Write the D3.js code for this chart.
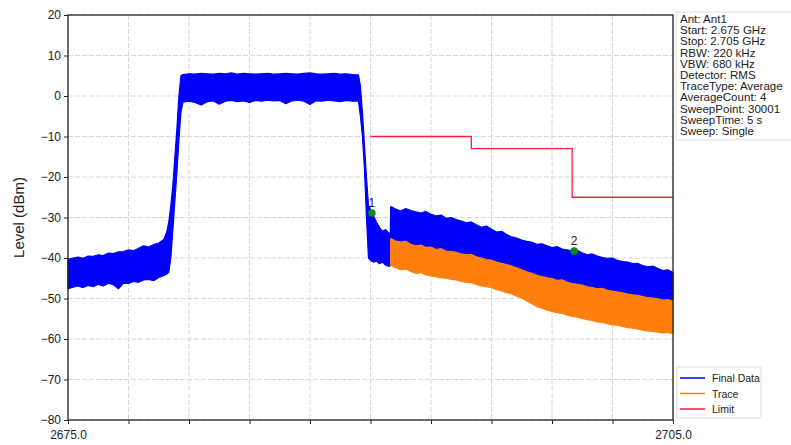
<!DOCTYPE html>
<html><head><meta charset="utf-8">
<script src="https://cdn.jsdelivr.net/npm/d3@7"></script>
<style>
body{margin:0;background:#fff;}
text{font-family:"Liberation Sans",Arial,sans-serif;}
</style></head>
<body><svg id="c" width="791" height="445"></svg>
<script>
// ---- data ----
const bandFreq = [2675.00,2675.25,2675.50,2675.75,2676.00,2676.25,2676.50,2676.75,2677.00,2677.25,2677.50,2677.75,2678.00,2678.25,2678.50,2678.75,2679.00,2679.25,2679.50,
 2679.75,2679.90,2680.00,2680.10,2680.20,2680.30,2680.40,2680.50,2680.60,2680.70,
 2681.00,2681.30,2681.60,2681.90,2682.20,2682.50,2682.80,2683.10,2683.40,2683.70,2684.00,2684.30,2684.60,2684.90,2685.20,2685.50,2685.80,2686.10,2686.40,2686.70,2687.00,2687.30,2687.60,2687.90,2688.20,2688.50,2688.80,2689.10,
 2689.40,2689.50,2689.60,2689.70,2689.80,2689.90,2690.00,2690.15,2690.30,2690.45,2690.60,2690.75,2690.90,2690.98];
const bandMax = [-40.3,-40.0,-39.8,-40.1,-39.5,-39.6,-39.2,-39.4,-38.8,-38.9,-38.5,-38.4,-38.0,-38.2,-37.6,-37.0,-37.3,-36.7,-36.3,
 -35.4,-33.5,-31.0,-27.0,-22.0,-15.0,-8.0,0.0,5.0,5.3,
 5.5,5.4,5.6,5.5,5.4,5.6,5.5,5.7,5.4,5.6,5.5,5.4,5.5,5.6,5.4,5.5,5.6,5.5,5.4,5.6,5.7,5.5,5.4,5.5,5.6,5.4,5.5,5.3,
 5.2,2.5,-4.0,-12.0,-20.0,-27.0,-28.0,-29.6,-31.2,-32.5,-33.4,-33.0,-33.8,-34.0];
const bandMin = [-47.6,-47.2,-46.9,-47.3,-46.8,-47.1,-46.5,-46.9,-46.2,-46.6,-47.6,-46.2,-46.3,-45.8,-46.0,-45.4,-45.3,-45.6,-44.8,
 -44.3,-44.0,-43.5,-40.0,-33.0,-26.0,-19.0,-11.0,-4.0,-1.5,
 -1.3,-1.6,-2.2,-1.4,-1.2,-2.0,-1.3,-1.1,-1.4,-1.2,-1.6,-1.1,-1.3,-1.0,-1.2,-1.1,-1.9,-1.2,-1.0,-1.3,-2.1,-1.2,-1.3,-1.0,-1.2,-1.4,-1.1,-1.3,
 -1.2,-5.0,-10.0,-18.0,-30.0,-40.0,-40.6,-41.0,-40.8,-41.4,-41.0,-41.8,-42.0,-42.0];

const spurFreq = [2691.00,2691.25,2691.50,2691.75,2692.00,2692.25,2692.50,2692.75,2693.00,2693.25,2693.50,2693.75,2694.00,2694.25,2694.50,2694.75,2695.00,2695.25,2695.50,2695.75,
 2696.00,2696.25,2696.50,2696.75,2697.00,2697.25,2697.50,2697.75,2698.00,2698.25,2698.50,2698.75,2699.00,2699.25,2699.50,2699.75,2700.00,2700.25,2700.50,2700.75,
 2701.00,2701.25,2701.50,2701.75,2702.00,2702.25,2702.50,2702.75,2703.00,2703.25,2703.50,2703.75,2704.00,2704.25,2704.50,2704.75,2705.00];
const finalSpurMax = [-27.3,-27.9,-28.4,-27.8,-28.3,-28.6,-28.9,-28.5,-29.2,-29.6,-29.4,-30.2,-30.0,-30.5,-30.9,-31.3,-31.1,-31.8,-32.4,-32.1,
 -32.9,-33.6,-33.4,-34.2,-34.8,-35.1,-35.6,-35.9,-36.1,-36.6,-36.5,-37.0,-37.4,-37.2,-37.8,-38.0,-38.3,-38.1,-38.7,-39.2,
 -39.0,-39.5,-39.9,-40.1,-40.0,-40.6,-40.9,-41.0,-41.4,-41.3,-41.9,-42.2,-42.0,-42.6,-43.1,-42.9,-43.6];
const traceMax = [-35.2,-35.8,-36.1,-35.9,-36.6,-37.0,-36.8,-37.4,-37.3,-37.9,-37.7,-38.3,-38.4,-38.6,-39.0,-39.2,-39.1,-39.7,-40.0,-40.4,
 -40.5,-41.0,-41.3,-41.6,-42.0,-42.4,-42.9,-43.4,-43.8,-44.3,-44.6,-44.9,-45.1,-45.5,-45.4,-46.0,-46.3,-46.5,-46.7,-47.1,
 -47.3,-47.6,-47.5,-48.0,-48.2,-48.4,-48.6,-48.9,-49.1,-49.2,-49.5,-49.8,-49.9,-50.1,-50.4,-50.3,-50.6];
const traceMin = [-41.8,-42.4,-42.9,-42.7,-43.3,-43.8,-43.6,-44.2,-44.4,-44.6,-44.9,-45.0,-45.3,-45.4,-45.8,-46.0,-46.1,-46.5,-46.9,-47.1,
 -47.3,-47.8,-48.1,-48.5,-48.9,-49.4,-49.9,-50.6,-51.3,-52.0,-52.4,-52.8,-53.2,-53.5,-53.7,-54.1,-54.4,-54.6,-54.9,-55.2,
 -55.4,-55.8,-55.9,-56.2,-56.5,-56.6,-56.9,-57.2,-57.3,-57.5,-57.8,-58.0,-58.1,-58.3,-58.5,-58.4,-58.7];

const limitFreq = [2690, 2695, 2700, 2705];
const limitLevel = [-10, -13, -25, -25];

const markerFreq = [2690.07, 2700.1];
const markerLevel = [-28.9, -38.3];
const markerLabel = ["1", "2"];

const xTicks = [2675, 2678, 2681, 2684, 2687, 2690, 2693, 2696, 2699, 2702, 2705];
const yTicks = [20, 10, 0, -10, -20, -30, -40, -50, -60, -70, -80];

const infoLines = ["Ant: Ant1","Start: 2.675 GHz","Stop: 2.705 GHz","RBW: 220 kHz","VBW: 680 kHz","Detector: RMS","TraceType: Average","AverageCount: 4","SweepPoint: 30001","SweepTime: 5 s","Sweep: Single"];
const legendNames = ["Final Data","Trace","Limit"];
const legendColors = ["#0000ff","#ff7f0e","#ff1f3d"];

// ---- chart ----
const svg = d3.select("#c");
const m = {l:68, t:15, r:118, b:25};
const W = 791 - m.l - m.r, H = 445 - m.t - m.b;
const x = d3.scaleLinear().domain([2675, 2705]).range([0, W]);
const y = d3.scaleLinear().domain([-80, 20]).range([H, 0]);
const g = svg.append("g").attr("transform", `translate(${m.l},${m.t})`);

// grid
g.append("g").selectAll("line").data(yTicks).join("line")
  .attr("x1",0).attr("x2",W).attr("y1",d=>y(d)).attr("y2",d=>y(d))
  .attr("stroke","#d8d8d8").attr("stroke-width",1).attr("stroke-dasharray","5,2");
g.append("g").selectAll("line").data(xTicks).join("line")
  .attr("y1",0).attr("y2",H).attr("x1",d=>x(d)).attr("x2",d=>x(d))
  .attr("stroke","#d8d8d8").attr("stroke-width",1).attr("stroke-dasharray","5,2");

// Final Data envelope
const fFreq = bandFreq.concat(spurFreq);
const fMax = bandMax.concat(finalSpurMax);
const fMin = bandMin.concat(traceMax);
const finalPts = fFreq.map((f,i)=>({f, hi:fMax[i], lo:fMin[i]}));
const area = d3.area().x(d=>x(d.f)).y0(d=>y(d.lo)).y1(d=>y(d.hi));
g.append("path").datum(finalPts).attr("d", area)
  .attr("fill", legendColors[0]).attr("stroke", legendColors[0]).attr("stroke-width",1.2).attr("stroke-linejoin","bevel");

// Trace envelope
const tracePts = spurFreq.map((f,i)=>({f, hi:traceMax[i], lo:traceMin[i]}));
g.append("path").datum(tracePts).attr("d", area)
  .attr("fill", legendColors[1]).attr("stroke", legendColors[1]).attr("stroke-width",1.2).attr("stroke-linejoin","bevel");

// Limit
const limPts = limitFreq.map((f,i)=>({f, v:limitLevel[i]}));
g.append("path").datum(limPts)
  .attr("d", d3.line().x(d=>x(d.f)).y(d=>y(d.v)).curve(d3.curveStepAfter))
  .attr("fill","none").attr("stroke", legendColors[2]).attr("stroke-width",1.3);

// markers
const mk = markerFreq.map((f,i)=>({f, v:markerLevel[i], t:markerLabel[i]}));
g.selectAll("circle.mk").data(mk).join("circle").attr("class","mk")
  .attr("cx",d=>x(d.f)).attr("cy",d=>y(d.v)).attr("r",3.8).attr("fill","#0c8c1c");
g.selectAll("text.mk").data(mk).join("text").attr("class","mk")
  .attr("x",d=>x(d.f)).attr("y",d=>y(d.v)-6).attr("text-anchor","middle")
  .attr("font-size",12).attr("fill","#222").text(d=>d.t);

// axes
const yAxis = d3.axisLeft(y).tickValues(yTicks).tickSize(4).tickPadding(3);
const yg = g.append("g").call(yAxis);
yg.selectAll("text").attr("font-size",12).attr("fill","#222");
const xAxis = d3.axisBottom(x).tickValues(xTicks).tickSize(4).tickPadding(6)
  .tickFormat((d,i)=> (i===0 || i===xTicks.length-1) ? d3.format(".1f")(d) : "");
const xg = g.append("g").attr("transform",`translate(0,${H})`).call(xAxis);
xg.selectAll("text").attr("font-size",12).attr("fill","#222");
[yg,xg].forEach(a=>{a.select(".domain").remove(); a.selectAll("line").attr("stroke","#222");});

// frame
g.append("rect").attr("x",0).attr("y",0).attr("width",W).attr("height",H)
  .attr("fill","none").attr("stroke","#222").attr("stroke-width",1.3);

// y label
svg.append("text").attr("transform",`translate(24,${m.t+H/2}) rotate(-90)`)
  .attr("text-anchor","middle").attr("font-size",15).attr("fill","#222").text("Level (dBm)");

// info box
const ib = svg.append("g").attr("transform","translate(676,12)");
ib.append("rect").attr("x",0).attr("y",0).attr("width",116).attr("height",128)
  .attr("fill","#fff").attr("stroke","#ddd");
ib.append("g").attr("transform","translate(4,0) scale(1.07,1)")
  .selectAll("text").data(infoLines).join("text")
  .attr("x",0).attr("y",(d,i)=>11+i*11.2).attr("font-size",10.8).attr("fill","#222").text(d=>d);

// legend
const lg = svg.append("g").attr("transform","translate(677,367)");
lg.append("rect").attr("width",84).attr("height",51).attr("fill","#fff").attr("stroke","#e0e0e0");
const li = lg.selectAll("g").data(legendNames).join("g")
  .attr("transform",(d,i)=>`translate(0,${11+i*15.5})`);
li.append("line").attr("x1",3).attr("x2",28).attr("stroke",(d,i)=>legendColors[i]).attr("stroke-width",1.5);
li.append("text").attr("x",35).attr("y",4).attr("font-size",10.5).attr("fill","#222").text(d=>d);
</script></body></html>
